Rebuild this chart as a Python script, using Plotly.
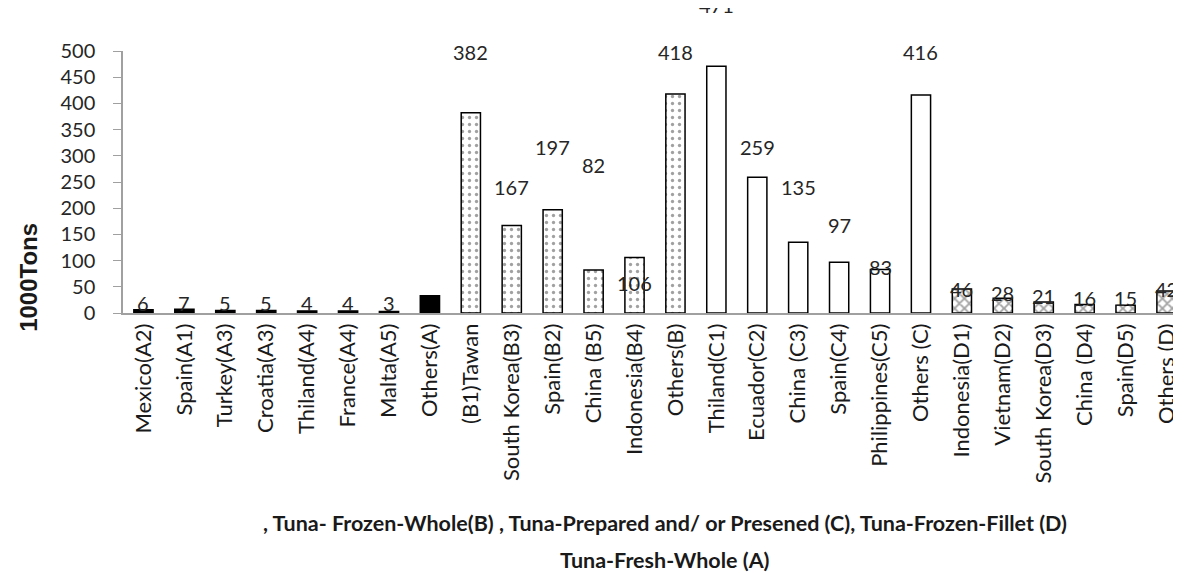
import plotly.graph_objects as go

categories = ["Mexico(A2)", "Spain(A1)", "Turkey(A3)", "Croatia(A3)", "Thiland(A4)", "France(A4)",
              "Malta(A5)", "Others(A)", "(B1)Tawan", "South Korea(B3)", "Spain(B2)", "China (B5)",
              "Indonesia(B4)", "Others(B)", "Thiland(C1)", "Ecuador(C2)", "China (C3)", "Spain(C4)",
              "Philippines(C5)", "Others (C)", "Indonesia(D1)", "Vietnam(D2)", "South Korea(D3)",
              "China (D4)", "Spain(D5)", "Others (D)"]
groups = ["A"] * 8 + ["B"] * 6 + ["C"] * 6 + ["D"] * 6
values = [6, 7, 5, 5, 4, 4, 3, 33, 382, 167, 197, 82, 106, 418, 471, 259, 135, 97, 83, 416,
          46, 28, 21, 16, 15, 42]
label_text = ["6", "7", "5", "5", "4", "4", "3", "", "382", "167", "197", "82", "106", "418",
              "471", "259", "135", "97", "83", "416", "46", "28", "21", "16", "15", "42"]
y_ticks = [0, 50, 100, 150, 200, 250, 300, 350, 400, 450, 500]

# label placement (in value units) – styling only
label_pos = [3, 3, 3, 3, 3, 3, 3, 0, 483, 225, 301, 267, 42, 483,
             572, 301, 225, 153, 73, 483, 30, 22, 18, 14, 13, 30]

style = {
    "A": dict(color="black", shape="", solidity=0.2),
    "B": dict(color="white", shape=".", solidity=0.18),
    "C": dict(color="white", shape="", solidity=0.2),
    "D": dict(color="white", shape="x", solidity=0.45),
}

FONT = "Lato, Open Sans, sans-serif"

fig = go.Figure()
fig.add_trace(go.Bar(
    x=list(range(len(categories))), y=values,
    marker=dict(
        color=[style[g]["color"] for g in groups],
        line=dict(color="black", width=1.5),
        pattern=dict(shape=[style[g]["shape"] for g in groups],
                     solidity=[style[g]["solidity"] for g in groups],
                     fgcolor="black", bgcolor="white", size=7),
    ),
    width=0.47,
    showlegend=False,
))

ymax = y_ticks[-1]
for i, (t, p) in enumerate(zip(label_text, label_pos)):
    if t:
        fig.add_annotation(x=i, y=p / ymax, text=t, showarrow=False, xref="x", yref="paper",
                           xanchor="center", yanchor="middle", yshift=8,
                           font=dict(family=FONT, size=20, color="#262626"))

fig.add_annotation(text="<b>, Tuna- Frozen-Whole(B) , Tuna-Prepared and/ or Presened (C), Tuna-Frozen-Fillet (D)</b>",
                   xref="paper", yref="paper", x=0.508, y=-0.832, showarrow=False,
                   xanchor="center", yanchor="middle", yshift=8,
                   font=dict(family=FONT, size=21.5, color="#1a1a1a"))
fig.add_annotation(text="<b>Tuna-Fresh-Whole (A)</b>",
                   xref="paper", yref="paper", x=0.508, y=-0.973, showarrow=False,
                   xanchor="center", yanchor="middle", yshift=8,
                   font=dict(family=FONT, size=21.5, color="#1a1a1a"))
fig.add_annotation(text="<b>1000Tons</b>", textangle=-90,
                   xref="paper", yref="paper", x=-0.0817, y=0.107, showarrow=False,
                   xanchor="center", yanchor="middle", xshift=-7, yshift=8,
                   font=dict(family="Liberation Sans, Arial, sans-serif", size=24, color="#1a1a1a"))

fig.update_layout(
    width=1181, height=575,
    margin=dict(l=115, r=0, t=43, b=270),
    paper_bgcolor="white", plot_bgcolor="white",
    xaxis=dict(tickmode="array", tickvals=list(range(len(categories))), ticktext=categories,
               range=[-0.5, 25.55], ticklabeloverflow="allow",
               tickangle=-90, showline=True, linecolor="#a0a0a0", linewidth=1.5,
               ticks="", showgrid=False, zeroline=False,
               tickfont=dict(family=FONT, size=22, color="#1a1a1a")),
    yaxis=dict(range=[0, 500], tickvals=y_ticks, showline=True, linecolor="#a0a0a0", linewidth=1.5,
               ticks="outside", ticklen=8, tickcolor="#a0a0a0", showgrid=False, zeroline=False,
               ticklabelstandoff=14,
               tickfont=dict(family=FONT, size=20, color="#262626")),
)

fig.write_html("out.html")
